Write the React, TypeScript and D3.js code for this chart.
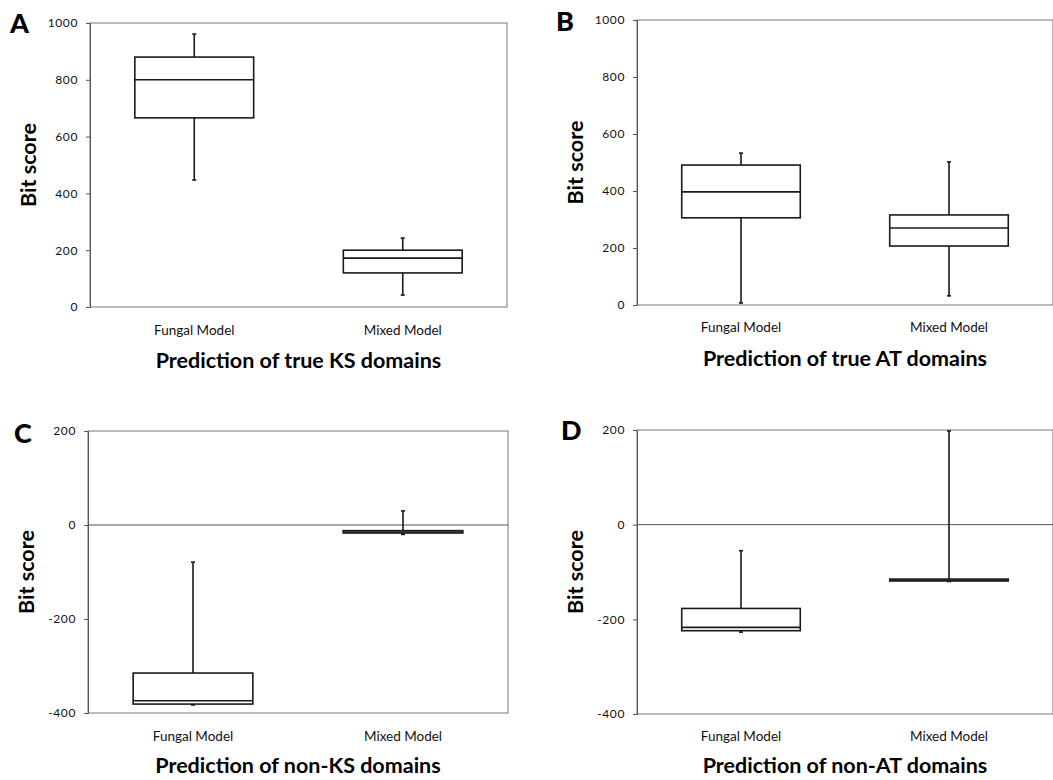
import React, { useRef, useEffect } from 'react';
import * as d3 from 'd3';

// categories shared by every panel
const categories = ['Fungal Model', 'Mixed Model'];

// box statistics per category: [min, q1, median, q3, max]
const trueKS = [
  [447, 666, 800, 880, 961],
  [42, 120, 172, 200, 243],
];
const trueAT = [
  [7, 306, 397, 491, 533],
  [32, 207, 270, 316, 502],
];
const nonKS = [
  [-383, -381, -374, -315, -79],
  [-20, -17, -15, -12, 30],
];
const nonAT = [
  [-227, -224, -217, -177, -55],
  [-120, -119, -117, -115, 198],
];

const posTicks = [0, 200, 400, 600, 800, 1000];
const negTicks = [-400, -200, 0, 200];

const panelLetters = ['A', 'B', 'C', 'D'];
const panelTitles = [
  'Prediction of true KS domains',
  'Prediction of true AT domains',
  'Prediction of non-KS domains',
  'Prediction of non-AT domains',
];

const FONT = 'Lato, "Open Sans", sans-serif';

const panels = [
  { stats: trueKS, ticks: posTicks, box: { left: 90, right: 507, top: 23, bottom: 307 }, catY: 335, titleY: 368, letterX: 10, letterY: 33 },
  { stats: trueAT, ticks: posTicks, box: { left: 637, right: 1053, top: 20, bottom: 305 }, catY: 332, titleY: 366, letterX: 556, letterY: 31 },
  { stats: nonKS, ticks: negTicks, box: { left: 88, right: 508, top: 431, bottom: 713 }, catY: 741, titleY: 773, letterX: 14, letterY: 443 },
  { stats: nonAT, ticks: negTicks, box: { left: 637, right: 1053, top: 430, bottom: 714 }, catY: 741, titleY: 773, letterX: 561, letterY: 440 },
];

const App = () => {
  const ref = useRef<SVGSVGElement>(null);

  useEffect(() => {
    const svg = d3.select(ref.current);
    svg.selectAll('*').remove();

    panels.forEach((p, i) => {
      const { left, right, top, bottom } = p.box;
      const g = svg.append('g');
      const y = d3.scaleLinear().domain(d3.extent(p.ticks) as [number, number]).range([bottom, top]);
      const x = d3.scaleBand().domain(categories).range([left, right]);
      const bw = x.bandwidth() * 0.57;

      // plot area frame
      g.append('rect')
        .attr('x', left).attr('y', top)
        .attr('width', right - left).attr('height', bottom - top)
        .attr('fill', 'none').attr('stroke', '#777').attr('stroke-width', 1);

      // zero line when the domain crosses zero
      if (y.domain()[0] < 0) {
        g.append('line')
          .attr('x1', left).attr('x2', right)
          .attr('y1', y(0)).attr('y2', y(0))
          .attr('stroke', '#555').attr('stroke-width', 1);
      }

      // y axis
      const axis = g.append('g')
        .attr('transform', `translate(${left},0)`)
        .call(d3.axisLeft(y).tickValues(p.ticks).tickSize(4).tickPadding(8).tickFormat(d => String(d)));
      axis.select('.domain').attr('stroke', '#555');
      axis.selectAll('.tick line').attr('stroke', '#555');
      axis.selectAll('text')
        .attr('font-family', FONT).attr('font-size', 12).attr('letter-spacing', 0.6).attr('fill', '#111');

      // boxes
      p.stats.forEach((s, j) => {
        const [mn, q1, med, q3, mx] = s;
        const cx = (x(categories[j]) as number) + x.bandwidth() / 2;
        const stroke = '#1a1a1a';
        g.append('line')
          .attr('x1', cx).attr('x2', cx).attr('y1', y(mx)).attr('y2', y(q3))
          .attr('stroke', stroke).attr('stroke-width', 1.6);
        g.append('line')
          .attr('x1', cx).attr('x2', cx).attr('y1', y(q1)).attr('y2', y(mn))
          .attr('stroke', stroke).attr('stroke-width', 1.6);
        [mn, mx].forEach(v => {
          g.append('line')
            .attr('x1', cx - 2).attr('x2', cx + 2).attr('y1', y(v)).attr('y2', y(v))
            .attr('stroke', stroke).attr('stroke-width', 1.6);
        });
        g.append('rect')
          .attr('x', cx - bw / 2).attr('y', y(q3))
          .attr('width', bw).attr('height', Math.max(0.5, y(q1) - y(q3)))
          .attr('fill', '#fff').attr('stroke', stroke).attr('stroke-width', 1.6);
        g.append('line')
          .attr('x1', cx - bw / 2).attr('x2', cx + bw / 2).attr('y1', y(med)).attr('y2', y(med))
          .attr('stroke', stroke).attr('stroke-width', 1.6);

        g.append('text')
          .attr('x', cx).attr('y', p.catY)
          .attr('text-anchor', 'middle')
          .attr('font-family', FONT).attr('font-size', 13.5).attr('fill', '#111')
          .text(categories[j]);
      });

      // axis title
      g.append('text')
        .attr('transform', `translate(${left - 54},${(top + bottom) / 2}) rotate(-90)`)
        .attr('text-anchor', 'middle')
        .attr('font-family', FONT).attr('font-weight', 700).attr('font-size', 21.5).attr('fill', '#000')
        .text('Bit score');

      // panel title
      g.append('text')
        .attr('x', (left + right) / 2).attr('y', p.titleY)
        .attr('text-anchor', 'middle')
        .attr('font-family', FONT).attr('font-weight', 700).attr('font-size', 21.5).attr('fill', '#000')
        .text(panelTitles[i]);

      // panel letter
      g.append('text')
        .attr('x', p.letterX).attr('y', p.letterY)
        .attr('font-family', FONT).attr('font-weight', 900).attr('font-size', 27).attr('fill', '#000')
        .text(panelLetters[i]);
    });
  }, []);

  return (
    <svg
      ref={ref}
      width={1053}
      height={780}
      style={{ position: 'absolute', left: 0, top: 0, background: '#fff' }}
    />
  );
};

export default App;
